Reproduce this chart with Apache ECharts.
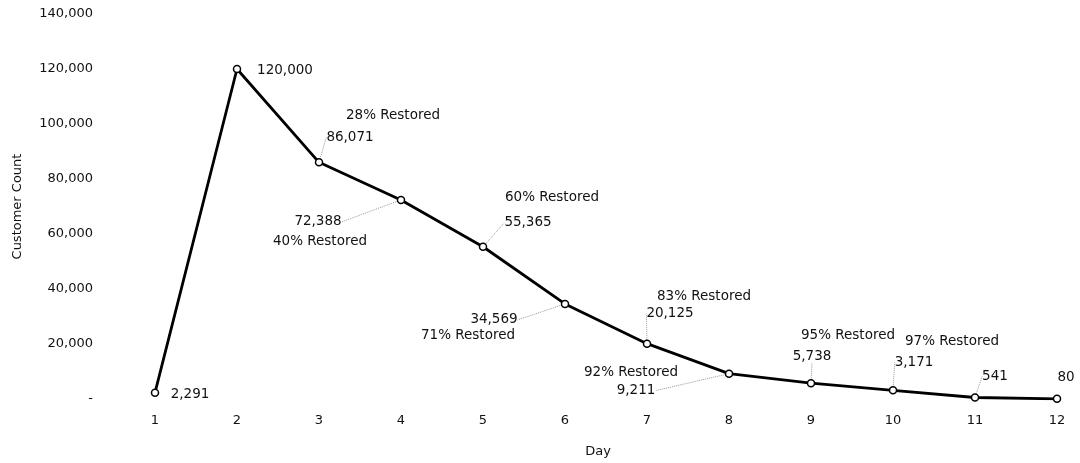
<!DOCTYPE html>
<html>
<head>
<meta charset="utf-8">
<script src="https://cdn.jsdelivr.net/npm/echarts@6/dist/echarts.min.js"></script>
<style>
  html, body { margin: 0; padding: 0; background: #fff; }
  #chart { width: 1080px; height: 463px; }
</style>
</head>
<body>
<div id="chart"></div>
<script>
// Outage restoration: customers without power by day
const days = ['1', '2', '3', '4', '5', '6', '7', '8', '9', '10', '11', '12'];
const customerCount = [2291, 120000, 86071, 72388, 55365, 34569, 20125, 9211, 5738, 3171, 541, 80];
const restoredPct = [null, null, 28, 40, 60, 71, 83, 92, 95, 97, null, null];
const yTicks = [0, 20000, 40000, 60000, 80000, 100000, 120000, 140000];

// label placement (pixel offsets from each point)
const valueOffsets = [[35, 2], [48, 1], [31, -25], [-83, 22], [45, -24], [-71, 16],
                      [23, -30], [-93, 17], [1, -27], [21, -28], [20, -21], [9, -21]];
const pctOffsets = [null, null, [74, -47], [-81, 42], [69, -49], [-97, 32],
                    [57, -47], [-98, -1], [37, -48], [59, -49], null, null];
const leaderShown = [false, false, true, true, true, true, true, true, true, true, true, false];

const FONT = 'DejaVu Sans';
const TEXT = '#111';
const fmt = v => v.toLocaleString('en-US');

const chart = echarts.init(document.getElementById('chart'));
chart.setOption({
  animation: false,
  backgroundColor: '#fff',
  grid: { left: 155, right: 23, top: 14, bottom: 64, containLabel: false },
  xAxis: {
    type: 'category',
    data: days,
    boundaryGap: false,
    name: 'Day',
    nameLocation: 'middle',
    nameGap: 46,
    nameTextStyle: { fontFamily: FONT, fontSize: 13, color: TEXT, padding: [0, 16, 0, 0] },
    axisLine: { show: false },
    axisTick: { show: false },
    axisLabel: { fontFamily: FONT, fontSize: 13, color: TEXT, margin: 15 }
  },
  yAxis: {
    type: 'value',
    min: yTicks[0],
    max: yTicks[yTicks.length - 1],
    interval: yTicks[1] - yTicks[0],
    name: 'Customer Count',
    nameLocation: 'middle',
    nameGap: 131,
    nameTextStyle: { fontFamily: FONT, fontSize: 13, color: TEXT },
    axisLine: { show: false },
    axisTick: { show: false },
    splitLine: { show: false },
    axisLabel: {
      fontFamily: FONT, fontSize: 13, color: TEXT, margin: 62,
      formatter: v => v === 0 ? '-' : fmt(v)
    }
  },
  series: [
    {
      type: 'line',
      data: customerCount.map((v, i) => ({
        value: v,
        labelLine: { show: leaderShown[i] }
      })),
      z: 3,
      symbol: 'circle',
      symbolSize: 7,
      itemStyle: { color: '#fff', borderColor: '#000', borderWidth: 1.5 },
      lineStyle: { color: '#000', width: 2.8 },
      label: {
        show: true,
        position: 'inside',
        fontFamily: FONT,
        fontSize: 13.5,
        color: TEXT,
        formatter: p => fmt(p.value)
      },
      labelLine: {
        show: true,
        lineStyle: { color: '#999', width: 1, type: 'dotted' }
      },
      labelLayout: p => ({ dx: valueOffsets[p.dataIndex][0], dy: valueOffsets[p.dataIndex][1] })
    },
    {
      type: 'line',
      data: customerCount,
      z: 1,
      silent: true,
      symbol: 'circle',
      symbolSize: 1,
      itemStyle: { color: 'rgba(0,0,0,0)' },
      lineStyle: { opacity: 0 },
      label: {
        show: true,
        position: 'inside',
        fontFamily: FONT,
        fontSize: 13.5,
        color: TEXT,
        formatter: p => restoredPct[p.dataIndex] == null ? '' : restoredPct[p.dataIndex] + '% Restored'
      },
      labelLayout: p => {
        const o = pctOffsets[p.dataIndex];
        return o ? { dx: o[0], dy: o[1] } : {};
      }
    }
  ]
});
</script>
</body>
</html>
